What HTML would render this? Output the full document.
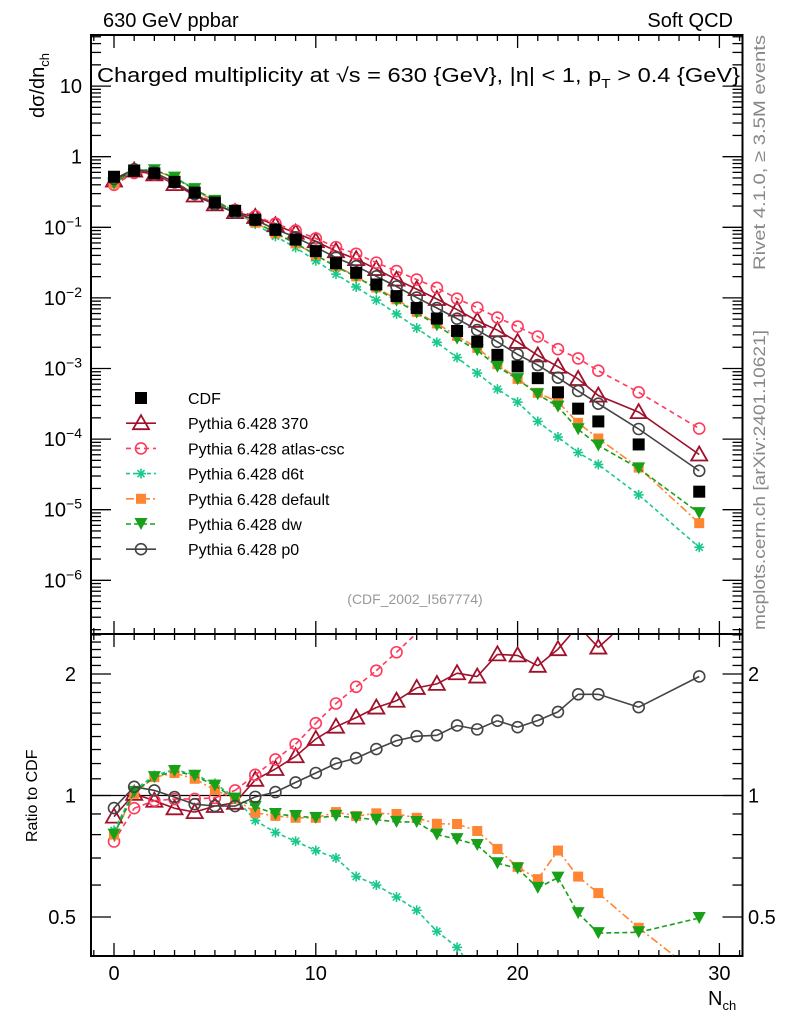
<!DOCTYPE html>
<html><head><meta charset="utf-8"><style>
html,body{margin:0;padding:0;background:#fff;width:786px;height:1024px;overflow:hidden;}
svg{display:block;font-family:"Liberation Sans",Arial,sans-serif;}
</style></head><body>
<svg id="chart" width="786" height="1024" viewBox="0 0 786 1024" xmlns="http://www.w3.org/2000/svg">
<text x="103" y="27" font-size="20">630 GeV ppbar</text>
<text x="733" y="27" font-size="20" text-anchor="end">Soft QCD</text>
<text x="97" y="82" font-size="20" textLength="643" lengthAdjust="spacingAndGlyphs">Charged multiplicity at √s = 630 {GeV}, |η| &lt; 1, p<tspan font-size="13" dy="6">T</tspan><tspan dy="-6"> &gt; 0.4 {GeV}</tspan></text>
<text transform="translate(44,118) rotate(-90)" font-size="20">dσ/dn<tspan font-size="13" dy="5">ch</tspan></text>
<text transform="translate(37,842) rotate(-90)" font-size="16">Ratio to CDF</text>
<text x="708" y="1005" font-size="20">N<tspan font-size="13" dy="5">ch</tspan></text>
<text transform="translate(765,270) rotate(-90)" font-size="17" fill="#888" textLength="235" lengthAdjust="spacingAndGlyphs">Rivet 4.1.0, ≥ 3.5M events</text>
<text transform="translate(765,630) rotate(-90)" font-size="17" fill="#888" textLength="300" lengthAdjust="spacingAndGlyphs">mcplots.cern.ch [arXiv:2401.10621]</text>
<text x="415" y="604" font-size="14" fill="#999" text-anchor="middle">(CDF_2002_I567774)</text>
<g id="plot"></g>
</svg>
<script>
const nch = [0,1,2,3,4,5,6,7,8,9,10,11,12,13,14,15,16,17,18,19,20,21,22,23,24,26,29];
const cdf = [0.52,0.63,0.58,0.44,0.31,0.224,0.171,0.128,0.092,0.067,0.046,0.031,0.0227,0.0155,0.0106,0.0072,0.0051,0.0034,0.0024,0.00156,0.00107,0.00073,0.00046,0.00027,0.000178,8.4e-5,1.8e-5];
const py370 = [0.461,0.636,0.563,0.409,0.282,0.211,0.164,0.140,0.107,0.0838,0.0635,0.0459,0.0354,0.0256,0.0182,0.0133,0.00964,0.00683,0.00473,0.00349,0.00238,0.00153,0.00106,0.00071,0.000414,0.000241,6.05e-5];
const atlasCsc = [0.400,0.586,0.563,0.431,0.304,0.221,0.176,0.144,0.113,0.0898,0.0695,0.0524,0.0422,0.0316,0.0240,0.0182,0.0139,0.00975,0.00728,0.00526,0.00393,0.00284,0.00188,0.00139,0.00093,0.00046,0.000141];
const d6t = [0.426,0.649,0.650,0.510,0.349,0.240,0.169,0.111,0.0745,0.0516,0.0336,0.0217,0.0143,0.0093,0.00594,0.00374,0.00235,0.00143,8.6e-4,5.1e-4,3.34e-4,1.78e-4,1.07e-4,6.45e-5,4.37e-5,1.62e-5,2.94e-6];
const pyDefault = [0.416,0.636,0.644,0.500,0.341,0.231,0.168,0.116,0.0819,0.0590,0.0405,0.0282,0.0202,0.0140,0.00954,0.00634,0.00434,0.00289,0.00196,0.00115,0.000712,0.000453,0.000336,0.000170,0.000102,3.95e-5,6.45e-6];
const dw = [0.416,0.643,0.644,0.506,0.347,0.237,0.168,0.120,0.0828,0.0596,0.0405,0.0276,0.0200,0.0135,0.00912,0.00619,0.00408,0.00265,0.00181,0.00106,0.000706,0.000431,0.000288,0.000138,8.12e-5,3.85e-5,8.95e-6];
const p0 = [0.484,0.662,0.597,0.436,0.295,0.211,0.161,0.127,0.0938,0.0722,0.0523,0.0372,0.0281,0.0202,0.0145,0.0101,0.00719,0.00507,0.00350,0.00239,0.00158,0.00112,0.000741,0.000481,0.000317,0.000139,3.55e-5];
const xTicks = [0,10,20,30];
const yDecades = [1,0,-1,-2,-3,-4,-5,-6];
const ratioTicks = [0.5,1,2];
const legendLabels = ["CDF","Pythia 6.428 370","Pythia 6.428 atlas-csc","Pythia 6.428 d6t","Pythia 6.428 default","Pythia 6.428 dw","Pythia 6.428 p0"];

const NS="http://www.w3.org/2000/svg";
const g=document.getElementById('plot');
const L=91,R=742.5,T=35,MB=634,RB=956;
function X(n){return 114+(n)*20.18;}
function Y(v){return 156.7-70.6*Math.log10(v);}
function YR(r){return 795.5-121.5*Math.log2(r);}
function el(tag,attrs,parent){const e=document.createElementNS(NS,tag);for(const k in attrs)e.setAttribute(k,attrs[k]);(parent||g).appendChild(e);return e;}

const fm=el('rect',{x:L,y:T,width:R-L,height:MB-T,fill:'none',stroke:'#000','stroke-width':2});


const fr=el('rect',{x:L,y:MB,width:R-L,height:RB-MB,fill:'none',stroke:'#000','stroke-width':2});



for(let n=-1;n<=31;n++){
  const major=n%10===0; const len=major?13:6; const x=X(n);
  if(x<L||x>R)continue;
  [[T,1],[MB,-1],[MB,1],[RB,-1]].forEach(([y0,d])=>{el('line',{x1:x,x2:x,y1:y0,y2:y0+d*len,stroke:'#000','stroke-width':1.3});});
}
xTicks.forEach(n=>{const t=el('text',{x:X(n),y:980,'font-size':20,'text-anchor':'middle'});t.textContent=n;

});

for(let d=-7;d<=1;d++){
  for(let m=1;m<=9;m++){
    const v=m*Math.pow(10,d); const y=Y(v);
    if(y<T||y>MB)continue;
    const len=m===1?20:10;
    el('line',{x1:L,x2:L+len,y1:y,y2:y,stroke:'#000','stroke-width':1.3});
    el('line',{x1:R,x2:R-len,y1:y,y2:y,stroke:'#000','stroke-width':1.3});
  }
}
yDecades.forEach(d=>{
  const t=el('text',{x:82,y:Y(Math.pow(10,d))+7,'font-size':20,'text-anchor':'end'});
  
  
  if(d===1)t.textContent='10';else if(d===0)t.textContent='1';
  else{t.textContent='10';const s=el('tspan',{dy:-8,'font-size':14},t);s.textContent='−'+(-d);}
});

for(let r=0.4;r<=2.55;r+=0.1){
  const y=YR(r); if(y<MB||y>RB)continue;
  const major=Math.abs(r-0.5)<1e-6||Math.abs(r-1)<1e-6||Math.abs(r-2)<1e-6;
  const len=major?20:10;
  el('line',{x1:L,x2:L+len,y1:y,y2:y,stroke:'#000','stroke-width':1.3});
  el('line',{x1:R,x2:R-len,y1:y,y2:y,stroke:'#000','stroke-width':1.3});
}
ratioTicks.forEach(r=>{
  const t=el('text',{x:76,y:YR(r)+7,'font-size':20,'text-anchor':'end'});t.textContent=r;
  
  
  const t2=el('text',{x:748,y:YR(r)+7,'font-size':20});t2.textContent=r;
  
  
});
el('line',{x1:L,x2:R,y1:YR(1),y2:YR(1),stroke:'#000','stroke-width':1.3});

function marker(type,color,x,y,parent){
  const gg=el('g',{},parent);
  if(type==='square')el('rect',{x:x-6,y:y-6,width:12,height:12,fill:color},gg);
  else if(type==='osquare')el('rect',{x:x-5,y:y-5,width:10,height:10,fill:color},gg);
  else if(type==='tri')el('polygon',{points:`${x},${y-8} ${x-8},${y+6} ${x+8},${y+6}`,fill:'#fff','fill-opacity':0,stroke:color,'stroke-width':1.8},gg);
  else if(type==='circ')el('circle',{cx:x,cy:y,r:5.5,fill:'none',stroke:color,'stroke-width':1.6},gg);
  else if(type==='dtri')el('polygon',{points:`${x-6.5},${y-6} ${x+6.5},${y-6} ${x},${y+6}`,fill:color},gg);
  else if(type==='star'){for(let a=0;a<4;a++){const an=a*Math.PI/4;el('line',{x1:x-5*Math.cos(an),y1:y-5*Math.sin(an),x2:x+5*Math.cos(an),y2:y+5*Math.sin(an),stroke:color,'stroke-width':1.6},gg);}}
  return gg;
}
// clip polyline to y-range, returns array of segments
function clipPolyline(pts,y0,y1){
  const segs=[];
  for(let i=0;i<pts.length-1;i++){
    let [xa,ya]=pts[i],[xb,yb]=pts[i+1];
    if((ya<y0&&yb<y0)||(ya>y1&&yb>y1))continue;
    const f=(y)=>xa+(xb-xa)*(y-ya)/(yb-ya);
    let A=[xa,ya],B=[xb,yb];
    if(ya<y0)A=[f(y0),y0]; if(ya>y1)A=[f(y1),y1];
    if(yb<y0)B=[f(y0),y0]; if(yb>y1)B=[f(y1),y1];
    segs.push(A[0].toFixed(1)+','+A[1].toFixed(1)+' '+B[0].toFixed(1)+','+B[1].toFixed(1));
  }
  return segs;
}
const series=[
 {name:'py370',data:py370,color:'#a0102a',m:'tri',dash:''},
 {name:'atlas-csc',data:atlasCsc,color:'#ff3a5c',m:'circ',dash:'5,4'},
 {name:'d6t',data:d6t,color:'#1ac98a',m:'star',dash:'4,3'},
 {name:'default',data:pyDefault,color:'#ff8533',m:'osquare',dash:'8,3,2,3'},
 {name:'dw',data:dw,color:'#18a018',m:'dtri',dash:'5,3'},
 {name:'p0',data:p0,color:'#444',m:'circ',dash:''}
];
const gm=el('g',{});
const gr=el('g',{});
series.forEach(s=>{
  const pts=nch.map((n,i)=>X(n)+','+Y(s.data[i])).join(' ');
  const pl=el('polyline',{points:pts,fill:'none',stroke:s.color,'stroke-width':1.6,'stroke-dasharray':s.dash},gm);
  
  
  nch.forEach((n,i)=>{const mk=marker(s.m,s.color,X(n),Y(s.data[i]),gm);
    
    });
  const rpts=nch.map((n,i)=>[X(n),YR(s.data[i]/cdf[i])]);
  const rl=el('path',{d:clipPolyline(rpts,MB+1,RB-1).map(sg=>'M'+sg.replace(' ',' L')).join(' '),fill:'none',stroke:s.color,'stroke-width':1.6,'stroke-dasharray':s.dash},gr);
  
  
  rpts.forEach(([x,y])=>{
    if(y<MB+2||y>RB-2)return;
    const mk=marker(s.m,s.color,x,y,gr);
    
    });
});
nch.forEach((n,i)=>{const mk=marker('square','#000',X(n),Y(cdf[i]),gm);
  
  });

const lg=el('g',{});


const legStyles=[{m:'square',color:'#000',dash:null}].concat(series.map(s=>({m:s.m,color:s.color,dash:s.dash})));
legendLabels.forEach((lab,i)=>{
  const y=398+i*25.2;
  const st=legStyles[i];
  const e=el('g',{},lg);
  
  
  if(st.dash!==null)el('line',{x1:126,x2:156,y1:y,y2:y,stroke:st.color,'stroke-width':1.6,'stroke-dasharray':st.dash},e);
  marker(st.m,st.color,141,y,e);
  const t=el('text',{x:188,y:y+6,'font-size':16},e);t.textContent=lab;
});
</script>
</body></html>
